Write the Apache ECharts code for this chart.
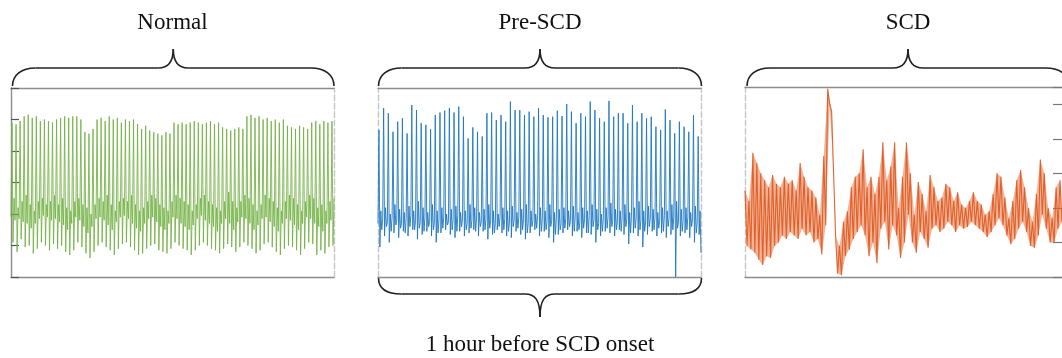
<!DOCTYPE html>
<html>
<head>
<meta charset="utf-8">
<script src="https://cdn.jsdelivr.net/npm/echarts@6/dist/echarts.min.js"></script>
<style>
  html, body { margin: 0; padding: 0; background: #fff; }
  #chart { width: 1062px; height: 358px; }
</style>
</head>
<body>
<div id="chart"></div>
<script>
// panel labels
const panelTitles = ['Normal', 'Pre-SCD', 'SCD']
const bottomNote = '1 hour before SCD onset'

// Normal ECG, one entry per beat: baseline before, R peak, S trough, T bump
const normalQ = [
  1.9, 1.8, 1.85, 1.75, 1.7, 1.55, 1.7, 1.85, 1.95, 1.9,
  1.8, 1.85, 1.75, 1.65, 1.5, 1.7, 1.9, 1.8, 1.6, 1.4,
  1.6, 1.85, 1.9, 1.8, 1.65, 1.5, 1.75, 1.9, 1.95, 1.85,
  1.7, 1.55, 1.45, 1.7, 1.85, 1.9, 1.75, 1.6, 1.5, 1.7,
  1.9, 1.85, 1.7, 1.6, 1.5, 1.65, 1.85, 1.95, 1.8, 1.7,
  1.6, 1.45, 1.7, 1.85, 1.7, 1.5, 1.75, 1.9, 1.85, 1.7,
  1.5, 1.65, 1.85, 1.9, 1.75, 1.6, 1.45, 1.7, 1.85, 1.8,
  1.65, 1.5, 1.7, 1.9, 1.85, 1.7, 1.6, 1.45, 1.7, 1.8
]
const normalR = [
  4.9, 4.85, 4.95, 5.1, 5.15, 5.05, 5.1, 4.95, 5.0, 4.95,
  4.9, 5.0, 5.05, 5.1, 5.05, 5.1, 5.1, 5.0, 4.6, 4.55,
  4.7, 5.0, 5.05, 4.95, 5.1, 5.0, 5.05, 4.9, 5.0, 4.95,
  5.0, 4.85, 4.7, 4.8, 4.65, 4.6, 4.55, 4.5, 4.6, 4.55,
  4.9, 4.85, 4.9, 4.85, 4.9, 4.95, 4.9, 4.85, 4.9, 4.95,
  4.85, 4.9, 4.75, 4.7, 4.65, 4.7, 4.75, 4.7, 5.1, 5.15,
  5.05, 5.1, 5.0, 5.05, 4.95, 5.0, 4.9, 5.0, 4.8, 4.75,
  4.7, 4.8, 4.75, 4.7, 4.9, 4.95, 4.85, 4.95, 4.9, 4.95
]
const normalS = [
  1.1, 0.8, 1.2, 0.95, 1.0, 0.75, 0.9, 1.1, 1.0, 0.85,
  1.05, 0.9, 1.0, 0.8, 0.7, 0.85, 1.1, 0.95, 0.75, 0.6,
  0.8, 1.0, 1.1, 0.95, 0.85, 0.7, 0.9, 1.05, 1.1, 0.95,
  0.85, 0.7, 0.75, 0.9, 1.0, 1.05, 0.85, 0.8, 0.75, 0.9,
  1.1, 1.0, 0.9, 0.85, 0.7, 0.85, 1.0, 1.1, 1.0, 0.9,
  0.85, 0.75, 0.9, 1.05, 0.95, 0.8, 0.95, 1.1, 1.0, 0.9,
  0.75, 0.85, 1.05, 1.1, 0.95, 0.8, 0.7, 0.9, 1.0, 0.95,
  0.85, 0.7, 0.9, 1.1, 1.05, 0.7, 0.85, 0.75, 0.95, 1.0
]
const normalT = [
  2.5, 2.2, 2.4, 2.6, 2.3, 2.1, 2.4, 2.5, 2.3, 2.4,
  2.6, 2.3, 2.5, 2.2, 2.1, 2.4, 2.5, 2.3, 2.2, 2.0,
  2.3, 2.5, 2.4, 2.6, 2.3, 2.1, 2.4, 2.5, 2.4, 2.6,
  2.3, 2.1, 2.2, 2.4, 2.6, 2.5, 2.3, 2.2, 2.1, 2.4,
  2.6, 2.5, 2.4, 2.3, 2.1, 2.3, 2.5, 2.6, 2.4, 2.3,
  2.2, 2.1, 2.4, 2.7, 2.4, 2.2, 2.4, 2.6, 2.5, 2.3,
  2.1, 2.3, 2.6, 2.5, 2.4, 2.2, 2.1, 2.4, 2.6, 2.5,
  2.3, 2.1, 2.4, 2.6, 2.5, 2.2, 2.3, 2.1, 2.4, 2.5
]

// Pre-SCD ECG, one entry per beat: baseline, R peak, S trough, two noise samples
const preQ = [
  1.7, 1.85, 1.75, 1.9, 1.8, 1.7, 1.85, 1.95, 1.8, 1.75,
  1.9, 1.8, 1.7, 1.85, 1.9, 1.75, 1.8, 1.95, 1.85, 1.7,
  1.8, 1.9, 1.75, 1.85, 1.8, 1.7, 1.9, 1.85, 1.75, 1.8,
  1.9, 1.85, 1.7, 1.8, 1.95, 1.85, 1.75, 1.8, 1.9, 1.7,
  1.85, 1.8, 1.9, 1.75, 1.85, 1.95, 1.8, 1.7, 1.85, 1.9,
  1.8, 1.75, 1.9, 1.85, 2.0, 1.9, 1.8, 1.75, 1.85, 1.9,
  1.8, 1.95, 1.85, 1.9, 1.75, 1.8, 1.9, 1.85, 1.75
]
const preR = [
  4.67, 5.36, 5.2, 4.61, 4.93, 5.04, 4.56, 5.46, 5.3, 4.88,
  4.83, 4.69, 5.14, 5.22, 5.28, 5.36, 5.22, 5.41, 5.09, 4.4,
  4.75, 4.61, 4.46, 5.2, 5.22, 4.98, 5.14, 4.93, 5.57, 5.3,
  5.3, 5.14, 5.25, 5.09, 5.36, 5.14, 5.07, 5.09, 5.28, 5.11,
  5.49, 5.25, 4.88, 5.2, 5.09, 5.57, 5.3, 5.04, 4.93, 5.59,
  5.09, 5.2, 5.2, 4.88, 5.46, 4.93, 5.2, 5.04, 5.09, 4.77,
  4.67, 5.32, 4.98, 4.56, 4.93, 4.77, 4.61, 5.14, 4.46
]
const preS = [
  0.95, 1.3, 1.1, 1.4, 1.25, 1.45, 1.3, 1.5, 1.2, 1.35,
  1.45, 1.3, 1.1, 1.4, 1.5, 1.35, 1.25, 1.45, 1.3, 1.4,
  1.5, 1.3, 1.45, 1.2, 1.35, 1.5, 1.4, 1.3, 1.25, 1.45,
  1.35, 1.2, 1.4, 1.5, 1.3, 1.45, 1.25, 1.1, 1.35, 1.4,
  1.5, 1.3, 1.45, 1.25, 1.4, 1.35, 1.1, 1.3, 1.45, 1.4,
  1.3, 1.5, 1.35, 1.05, 1.4, 1.3, 0.95, 1.35, 1.45, 1.3,
  1.4, 1.25, 1.35, 0.0, 1.3, 1.4, 1.25, 1.1, 1.35
]
const preN1 = [
  2.1, 2.2, 2.0, 2.3, 2.15, 2.05, 2.25, 2.1, 2.4, 2.2,
  2.05, 2.3, 2.1, 2.2, 2.0, 2.15, 2.25, 2.05, 2.1, 2.3,
  2.2, 2.05, 2.15, 2.3, 2.1, 2.0, 2.2, 2.1, 2.25, 2.05,
  2.15, 2.3, 2.1, 2.0, 2.2, 2.1, 2.3, 2.05, 2.15, 2.2,
  2.1, 2.25, 2.05, 2.2, 2.1, 2.3, 2.15, 2.0, 2.2, 2.35,
  2.15, 2.1, 2.3, 2.05, 2.2, 2.4, 2.1, 2.25, 2.15, 2.05,
  2.2, 2.1, 2.3, 2.4, 2.15, 2.2, 2.05, 2.25, 2.1
]
const preN2 = [
  1.5, 1.6, 1.45, 1.65, 1.55, 1.4, 1.6, 1.5, 1.55, 1.45,
  1.6, 1.5, 1.4, 1.55, 1.65, 1.5, 1.45, 1.6, 1.5, 1.55,
  1.45, 1.6, 1.5, 1.55, 1.4, 1.6, 1.5, 1.45, 1.6, 1.55,
  1.5, 1.4, 1.6, 1.55, 1.45, 1.5, 1.6, 1.35, 1.5, 1.55,
  1.6, 1.45, 1.5, 1.55, 1.4, 1.6, 1.5, 1.45, 1.55, 1.6,
  1.5, 1.45, 1.6, 1.4, 1.55, 1.5, 1.45, 1.6, 1.5, 1.55,
  1.45, 1.6, 1.5, 1.55, 1.45, 1.5, 1.6, 1.4, 0.76
]

// SCD trace, read as upper / lower envelope every ~4 px
const scdHigh = [
  2.5, 2.2, 3.6, 3.3, 3.0, 2.8, 2.6, 2.95, 2.7, 2.6,
  2.9, 2.7, 2.8, 2.5, 3.3, 2.9, 2.6, 2.5, 2.3, 1.8,
  3.5, 5.45, 4.8, 1.2, 0.9, 1.6, 1.9, 2.6, 2.9, 3.0,
  3.7, 2.6, 2.9, 2.4, 2.9, 3.9, 2.8, 3.2, 3.9, 2.0,
  2.9, 3.9, 3.0, 1.8, 2.75, 2.4, 1.9, 2.95, 2.6, 2.2,
  2.3, 2.7, 2.6, 2.2, 2.45, 2.1, 2.0, 2.2, 2.45, 2.2,
  2.1, 1.8, 1.9, 2.4, 3.0, 2.9, 2.3, 1.7, 2.2, 2.8,
  3.1, 2.6, 2.0, 1.6, 2.4, 3.4, 3.0, 2.0, 1.7, 2.6,
  2.8
]
const scdLow = [
  0.9, 0.8, 0.7, 0.5, 0.35, 0.6, 0.55, 0.9, 1.0, 1.2,
  1.1, 1.3, 1.2, 1.1, 1.4, 1.2, 1.3, 1.0, 1.1, 0.65,
  1.5, 5.0, 3.0, 0.1, 0.05, 0.6, 0.8, 1.1, 1.3, 1.5,
  1.2, 0.6, 1.0, 0.4, 1.4, 1.6, 0.8, 1.5, 1.2, 0.55,
  1.0, 1.8, 1.0, 0.7, 1.3, 1.1, 0.85, 1.4, 1.5, 1.3,
  1.4, 1.6, 1.5, 1.3, 1.5, 1.4, 1.45, 1.6, 1.5, 1.4,
  1.3, 1.15, 1.3, 1.5, 1.7, 1.5, 1.2, 0.95, 1.1, 1.4,
  1.6, 1.3, 0.9, 0.85, 1.2, 1.8, 1.4, 1.0, 1.0, 1.4,
  1.6
]

const frameColor = '#8c8c8c'
const dashColor = '#c6c6c6'

function toPoints(values) {
  return values.map((v, i) => [i, v])
}

function buildNormal() {
  const out = []
  normalR.forEach((r, i) => {
    out.push(normalQ[i], r, normalS[i], normalT[i])
  })
  return out
}

function buildPre() {
  const out = []
  preR.forEach((r, i) => {
    out.push(preQ[i], r, preS[i], preN1[i], preN2[i])
  })
  return out
}

function buildScd() {
  const out = []
  scdHigh.forEach((h, i) => {
    out.push(h, scdLow[i])
  })
  return out
}

const traces = [buildNormal(), buildPre(), buildScd()]

const grids = [
  { left: 11, top: 88, width: 323, height: 189 },
  { left: 378, top: 88, width: 323, height: 189 },
  { left: 745, top: 87, width: 321, height: 190 }
]

function line(show, color, type) {
  return { show: show, onZero: false, lineStyle: { color: color, width: 1.4, type: type || 'solid' } }
}

const hidden = { axisLabel: { show: false }, splitLine: { show: false } }

const xAxes = []
const yAxes = []
traces.forEach((t, g) => {
  xAxes.push(Object.assign({ gridIndex: g, type: 'value', min: 0, max: t.length - 1, position: 'bottom',
    axisLine: line(true, frameColor), axisTick: { show: false } }, hidden))
  xAxes.push(Object.assign({ gridIndex: g, type: 'value', min: 0, max: 1, position: 'top',
    axisLine: line(true, frameColor), axisTick: { show: false } }, hidden))
})

// Normal: solid left with inside ticks, dashed right
yAxes.push(Object.assign({ gridIndex: 0, type: 'value', min: 0, max: 6, interval: 1, position: 'left',
  axisLine: line(true, frameColor),
  axisTick: { show: true, inside: true, length: 8, lineStyle: { color: '#555', width: 1.2 } } }, hidden))
yAxes.push(Object.assign({ gridIndex: 0, type: 'value', min: 0, max: 6, position: 'right',
  axisLine: line(true, dashColor, 'dashed'), axisTick: { show: false } }, hidden))
// Pre-SCD: dashed both sides
yAxes.push(Object.assign({ gridIndex: 1, type: 'value', min: 0, max: 6, position: 'left',
  axisLine: line(true, dashColor, 'dashed'), axisTick: { show: false } }, hidden))
yAxes.push(Object.assign({ gridIndex: 1, type: 'value', min: 0, max: 6, position: 'right',
  axisLine: line(true, dashColor, 'dashed'), axisTick: { show: false } }, hidden))
// SCD: ticks on the right, dashed left
yAxes.push(Object.assign({ gridIndex: 2, type: 'value', min: 0, max: 5.5, interval: 1, position: 'right',
  axisLine: line(false, frameColor),
  axisTick: { show: true, inside: true, length: 9, lineStyle: { color: '#777', width: 1.2 } } }, hidden))
yAxes.push(Object.assign({ gridIndex: 2, type: 'value', min: 0, max: 5.5, position: 'left',
  axisLine: line(true, dashColor, 'dashed'), axisTick: { show: false } }, hidden))

const colors = ['#72b043', '#1f78c1', '#e0561c']
const opacities = [0.85, 0.9, 0.9]

const series = traces.map((t, g) => ({
  type: 'line',
  xAxisIndex: g * 2,
  yAxisIndex: g * 2,
  data: toPoints(t),
  symbol: 'none',
  smooth: false,
  silent: true,
  z: 3,
  lineStyle: { color: colors[g], width: g === 2 ? 1.1 : 1, opacity: opacities[g] }
}))

// SCD: shaded band between the read envelopes, drawn under the trace
series.push({
  type: 'custom',
  coordinateSystem: 'cartesian2d',
  xAxisIndex: 4,
  yAxisIndex: 4,
  silent: true,
  z: 2,
  data: [[0, 1]],
  renderItem: function (params, api) {
    const pts = []
    scdHigh.forEach((v, i) => pts.push(api.coord([2 * i, v])))
    for (let i = scdLow.length - 1; i >= 0; i--) pts.push(api.coord([2 * i + 1, scdLow[i]]))
    return { type: 'polygon', shape: { points: pts }, style: { fill: '#e46a33', opacity: 0.5 } }
  }
})

// curly braces, built from bezier curves and straight lines
const braceStyle = { fill: null, stroke: '#222', lineWidth: 1.6 }

function curve(x1, y1, c1x, c1y, c2x, c2y, x2, y2) {
  return { type: 'bezierCurve', silent: true, style: braceStyle,
    shape: { x1: x1, y1: y1, cpx1: c1x, cpy1: c1y, cpx2: c2x, cpy2: c2y, x2: x2, y2: y2 } }
}
function straight(x1, y1, x2, y2) {
  return { type: 'line', silent: true, style: braceStyle, shape: { x1: x1, y1: y1, x2: x2, y2: y2 } }
}

// end: y of the two feet, bar: y of the long arms, tip: y of the point
function brace(L, R, end, bar, tip) {
  const T = (L + R) / 2
  const d = bar > end ? 1 : -1
  return [
    curve(L, end, L, end + d * 11, L + 9, bar, L + 23, bar),
    straight(L + 23, bar, T - 15, bar),
    curve(T - 15, bar, T - 5, bar, T, bar + d * 6, T, tip),
    curve(T, tip, T, bar + d * 6, T + 5, bar, T + 15, bar),
    straight(T + 15, bar, R - 23, bar),
    curve(R - 23, bar, R - 9, bar, R, end + d * 11, R, end)
  ]
}

const textFont = '23px "Liberation Serif", "Times New Roman", serif'
const titleX = [172.5, 540, 908]

const graphic = []
  .concat(brace(12.5, 334, 86, 68, 49))
  .concat(brace(378.5, 701.5, 86, 68, 49))
  .concat(brace(747, 1069, 86, 68, 49))
  .concat(brace(378.5, 701.5, 278, 294, 317))
  .concat([{ type: 'text', x: 540, y: 345, silent: true,
    style: { text: bottomNote, font: textFont, fill: '#111', textAlign: 'center', textVerticalAlign: 'middle' } }])
  .concat(panelTitles.map((t, i) => ({
    type: 'text', x: titleX[i], y: 23, silent: true,
    style: { text: t, font: textFont, fill: '#111', textAlign: 'center', textVerticalAlign: 'middle' }
  })))

const chart = echarts.init(document.getElementById('chart'))
chart.setOption({
  animation: false,
  backgroundColor: '#fff',
  grid: grids,
  xAxis: xAxes,
  yAxis: yAxes,
  series: series,
  graphic: graphic
})
</script>
</body>
</html>
